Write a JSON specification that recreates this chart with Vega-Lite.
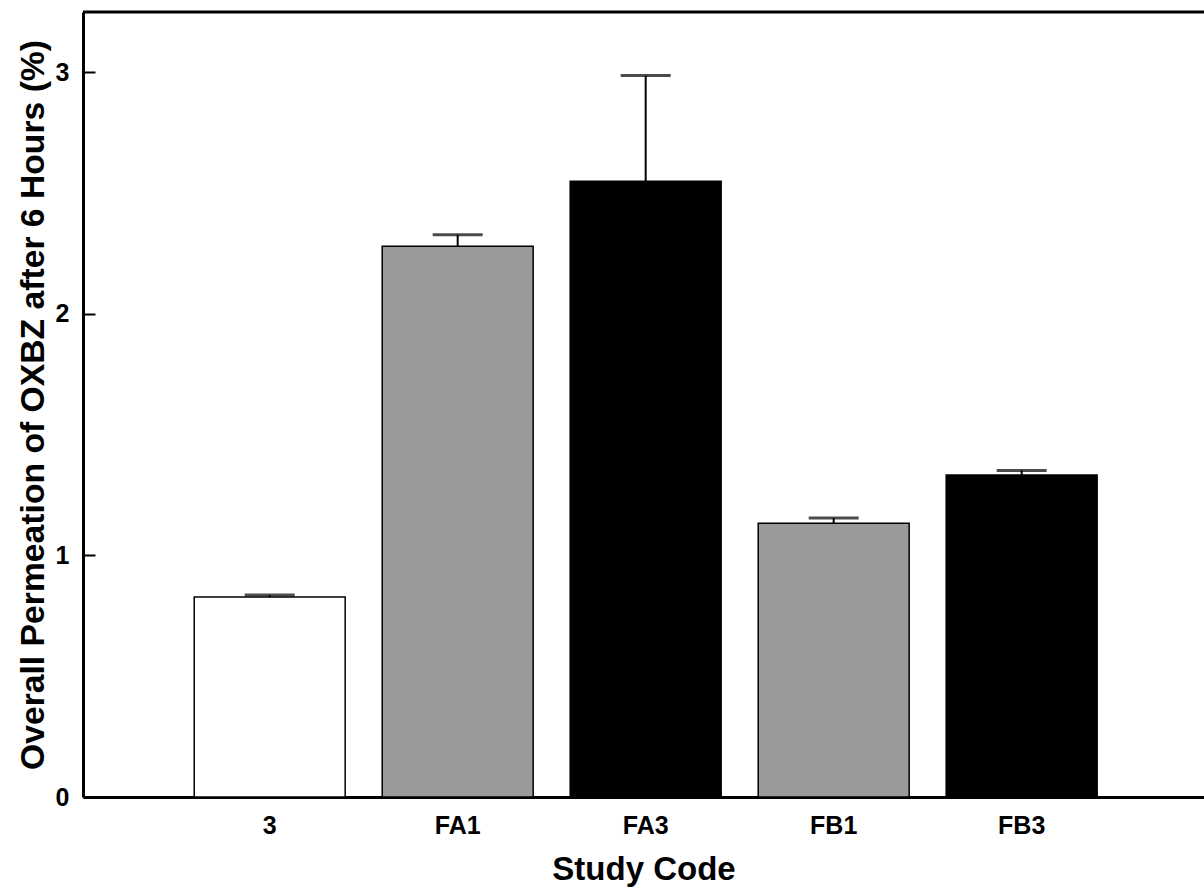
{
  "$schema": "https://vega.github.io/schema/vega-lite/v6.json",
  "autosize": {"type": "none"},
  "padding": {"left": 83, "top": 12, "right": 0, "bottom": 97},
  "width": 1121,
  "height": 785,
  "background": "white",
  "config": {"view": {"stroke": null}, "font": "Liberation Sans"},
  "data": {"values": [
    {"code": "3", "mean": 0.828, "upper": 0.836},
    {"code": "FA1", "mean": 2.28, "upper": 2.328},
    {"code": "FA3", "mean": 2.549, "upper": 2.987},
    {"code": "FB1", "mean": 1.133, "upper": 1.155},
    {"code": "FB3", "mean": 1.333, "upper": 1.352}
  ]},
  "layer": [
    {
      "mark": {"type": "bar", "stroke": "black", "strokeWidth": 1.5},
      "encoding": {
        "x": {"field": "code", "type": "nominal", "sort": null,
          "scale": {"paddingInner": 0.197, "paddingOuter": 0.58, "align": 0.51},
          "axis": {"orient": "bottom", "domain": true, "domainColor": "black", "domainWidth": 3, "ticks": false,
            "labelFontSize": 25, "labelFontWeight": "bold", "labelColor": "black", "labelPadding": 16, "labelAngle": 0,
            "title": "Study Code", "titleFontSize": 33, "titleFontWeight": "bold", "titleColor": "black", "titlePadding": 15}},
        "y": {"field": "mean", "type": "quantitative",
          "scale": {"domain": [0, 3.25], "nice": false, "zero": true},
          "axis": {"values": [0, 0.5, 1, 1.5, 2, 2.5, 3], "grid": false, "format": "d",
            "labelExpr": "datum.value % 1 === 0 ? datum.label : ''",
            "tickSize": {"condition": {"test": "datum.value % 1 === 0", "value": -12}, "value": -5},
            "tickColor": "black", "tickWidth": 2,
            "domain": true, "domainColor": "black", "domainWidth": 3,
            "labelFontSize": 25, "labelFontWeight": "bold", "labelColor": "black", "labelPadding": 26,
            "title": "Overall Permeation of OXBZ after 6 Hours (%)", "titleFontSize": 33.7, "titleFontWeight": "bold", "titleColor": "black", "titlePadding": 5}},
        "color": {"field": "code", "type": "nominal", "legend": null,
          "scale": {"domain": ["3", "FA1", "FA3", "FB1", "FB3"], "range": ["#ffffff", "#9a9a9a", "#000000", "#9a9a9a", "#000000"]}}
      }
    },
    {
      "mark": {"type": "rule", "color": "black", "strokeWidth": 2},
      "encoding": {
        "x": {"field": "code", "type": "nominal", "sort": null},
        "y": {"field": "mean", "type": "quantitative"},
        "y2": {"field": "upper"}
      }
    },
    {
      "mark": {"type": "tick", "orient": "horizontal", "color": "black", "size": 50, "thickness": 3},
      "encoding": {
        "x": {"field": "code", "type": "nominal", "sort": null},
        "y": {"field": "upper", "type": "quantitative"}
      }
    },
    {
      "data": {"values": [{}]},
      "mark": {"type": "rule", "color": "black", "strokeWidth": 3},
      "encoding": {"y": {"datum": 3.25}}
    }
  ]
}
